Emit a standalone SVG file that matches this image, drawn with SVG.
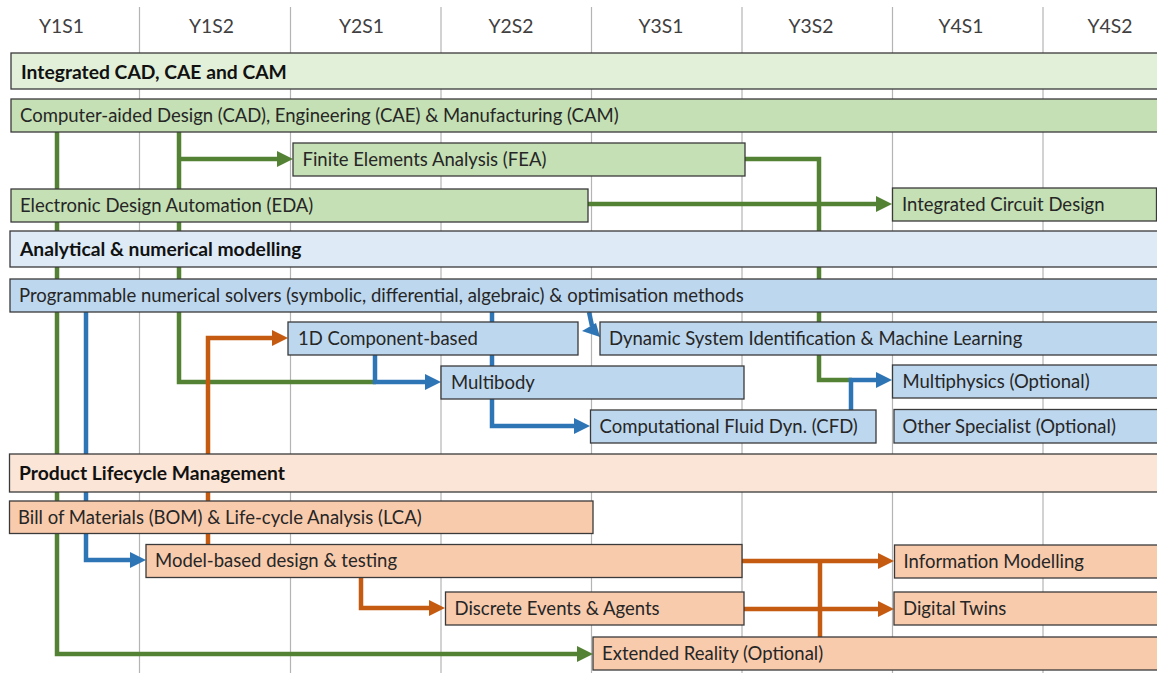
<svg xmlns="http://www.w3.org/2000/svg" width="1157" height="673" viewBox="0 0 1157 673">
<defs>
<style>
.grid{stroke:#b4b4b4;stroke-width:1.2}
.col{font-family:Lato,"Liberation Sans",sans-serif;font-size:19.3px;fill:#404040;text-anchor:middle}
.t{font-family:Lato,"Liberation Sans",sans-serif;font-size:18.5px;fill:#262626}
.h{font-family:Lato,"Liberation Sans",sans-serif;font-size:19.3px;font-weight:bold;fill:#111}
.box{stroke:#3a3a3a;stroke-width:1.3}
.gh{fill:#e2f0d9}.gb{fill:#c5e0b4}
.bh{fill:#deebf7}.bb{fill:#bdd7ee}
.oh{fill:#fbe5d6}.ob{fill:#f8cbad}
.c{fill:none;stroke-width:4.5;stroke-linejoin:miter}
.cg{stroke:#548235}.cb{stroke:#2e75b6}.co{stroke:#c55a11}
</style>
<marker id="ag" markerUnits="userSpaceOnUse" markerWidth="16" markerHeight="16" refX="8" refY="8" orient="auto"><path d="M0,0 L16,8 L0,16 Z" fill="#548235"/></marker>
<marker id="ab" markerUnits="userSpaceOnUse" markerWidth="16" markerHeight="16" refX="8" refY="8" orient="auto"><path d="M0,0 L16,8 L0,16 Z" fill="#2e75b6"/></marker>
<marker id="ao" markerUnits="userSpaceOnUse" markerWidth="16" markerHeight="16" refX="8" refY="8" orient="auto"><path d="M0,0 L16,8 L0,16 Z" fill="#c55a11"/></marker>
</defs>
<rect width="1157" height="673" fill="#fff"/>
<g id="grid">
<line class="grid" x1="139.5" y1="7" x2="139.5" y2="673"/>
<line class="grid" x1="290.5" y1="7" x2="290.5" y2="673"/>
<line class="grid" x1="441" y1="7" x2="441" y2="673"/>
<line class="grid" x1="591.5" y1="7" x2="591.5" y2="673"/>
<line class="grid" x1="742" y1="7" x2="742" y2="673"/>
<line class="grid" x1="892.5" y1="7" x2="892.5" y2="673"/>
<line class="grid" x1="1043" y1="7" x2="1043" y2="673"/>
</g>
<g id="columns">
<text class="col" x="61.5" y="33">Y1S1</text>
<text class="col" x="211.5" y="33">Y1S2</text>
<text class="col" x="361.5" y="33">Y2S1</text>
<text class="col" x="511" y="33">Y2S2</text>
<text class="col" x="661" y="33">Y3S1</text>
<text class="col" x="811" y="33">Y3S2</text>
<text class="col" x="961" y="33">Y4S1</text>
<text class="col" x="1110" y="33">Y4S2</text>
</g>
<g id="connectors">
<path class="c cg" d="M57,132 V654 H585" marker-end="url(#ag)"/>
<path class="c cg" d="M179,132 V382 H376"/>
<path class="c cg" d="M179,159 H285" marker-end="url(#ag)"/>
<path class="c cg" d="M745,159 H819 V380 H852"/>
<path class="c cg" d="M588,204 H884" marker-end="url(#ag)"/>
<path class="c cb" d="M86,312 V560 H138" marker-end="url(#ab)"/>
<path class="c cb" d="M492,312 V426 H582" marker-end="url(#ab)"/>
<path class="c cb" d="M375,355 V382 H433" marker-end="url(#ab)"/>
<path class="c cb" d="M589,312 L592,326"/>
<path d="M582,331 L596,323 L600,337 Z" fill="#2e75b6"/>
<path class="c cb" d="M851,410 V380 H884" marker-end="url(#ab)"/>
<path class="c co" d="M208,544 V338 H280" marker-end="url(#ao)"/>
<path class="c co" d="M361,577 V608 H437" marker-end="url(#ao)"/>
<path class="c co" d="M742,561 H886" marker-end="url(#ao)"/>
<path class="c co" d="M744,609 H886" marker-end="url(#ao)"/>
<path class="c co" d="M820,637 V561"/>
</g>
<g id="cad-header"><rect class="box gh" x="11" y="53" width="1150" height="36"/><text class="h" x="21" y="79">Integrated CAD, CAE and CAM</text></g>
<g id="cad"><rect class="box gb" x="11" y="99" width="1150" height="33"/><text class="t" x="20" y="122">Computer-aided Design (CAD), Engineering (CAE) &amp; Manufacturing (CAM)</text></g>
<g id="fea"><rect class="box gb" x="293" y="143" width="452" height="33"/><text class="t" x="302.5" y="166">Finite Elements Analysis (FEA)</text></g>
<g id="eda"><rect class="box gb" x="11" y="189" width="577" height="33"/><text class="t" x="20" y="212">Electronic Design Automation (EDA)</text></g>
<g id="icd"><rect class="box gb" x="892.5" y="188" width="264" height="33"/><text class="t" x="902" y="211">Integrated Circuit Design</text></g>
<g id="ana-header"><rect class="box bh" x="10" y="231" width="1151" height="36"/><text class="h" x="20" y="256">Analytical &amp; numerical modelling</text></g>
<g id="solvers"><rect class="box bb" x="10" y="279" width="1151" height="33"/><text class="t" x="19" y="302">Programmable numerical solvers (symbolic, differential, algebraic) &amp; optimisation methods</text></g>
<g id="comp1d"><rect class="box bb" x="288" y="322" width="290" height="33"/><text class="t" x="298" y="345">1D Component-based</text></g>
<g id="dsi"><rect class="box bb" x="600" y="322" width="561" height="33"/><text class="t" x="609" y="345">Dynamic System Identification &amp; Machine Learning</text></g>
<g id="multibody"><rect class="box bb" x="441" y="366" width="303" height="33"/><text class="t" x="451" y="389">Multibody</text></g>
<g id="cfd"><rect class="box bb" x="590.5" y="410" width="285.5" height="33"/><text class="t" x="599.5" y="433">Computational Fluid Dyn. (CFD)</text></g>
<g id="multiphysics"><rect class="box bb" x="892.5" y="365" width="268" height="33"/><text class="t" x="902.5" y="388">Multiphysics (Optional)</text></g>
<g id="other"><rect class="box bb" x="894" y="409.5" width="267" height="33.5"/><text class="t" x="902.5" y="433">Other Specialist (Optional)</text></g>
<g id="plm-header"><rect class="box oh" x="9.5" y="454" width="1152" height="38"/><text class="h" x="19" y="480">Product Lifecycle Management</text></g>
<g id="bom"><rect class="box ob" x="9.5" y="501" width="583.5" height="32.5"/><text class="t" x="18" y="524">Bill of Materials (BOM) &amp; Life-cycle Analysis (LCA)</text></g>
<g id="mbd"><rect class="box ob" x="146" y="544.5" width="596" height="33"/><text class="t" x="155" y="567">Model-based design &amp; testing</text></g>
<g id="discrete"><rect class="box ob" x="445.5" y="592" width="298.5" height="33"/><text class="t" x="454.5" y="615">Discrete Events &amp; Agents</text></g>
<g id="xr"><rect class="box ob" x="593" y="637" width="568" height="33"/><text class="t" x="602" y="660">Extended Reality (Optional)</text></g>
<g id="info"><rect class="box ob" x="894.5" y="545" width="266" height="33"/><text class="t" x="903.5" y="568">Information Modelling</text></g>
<g id="twins"><rect class="box ob" x="894" y="592" width="267" height="33"/><text class="t" x="903" y="615">Digital Twins</text></g>
</svg>
